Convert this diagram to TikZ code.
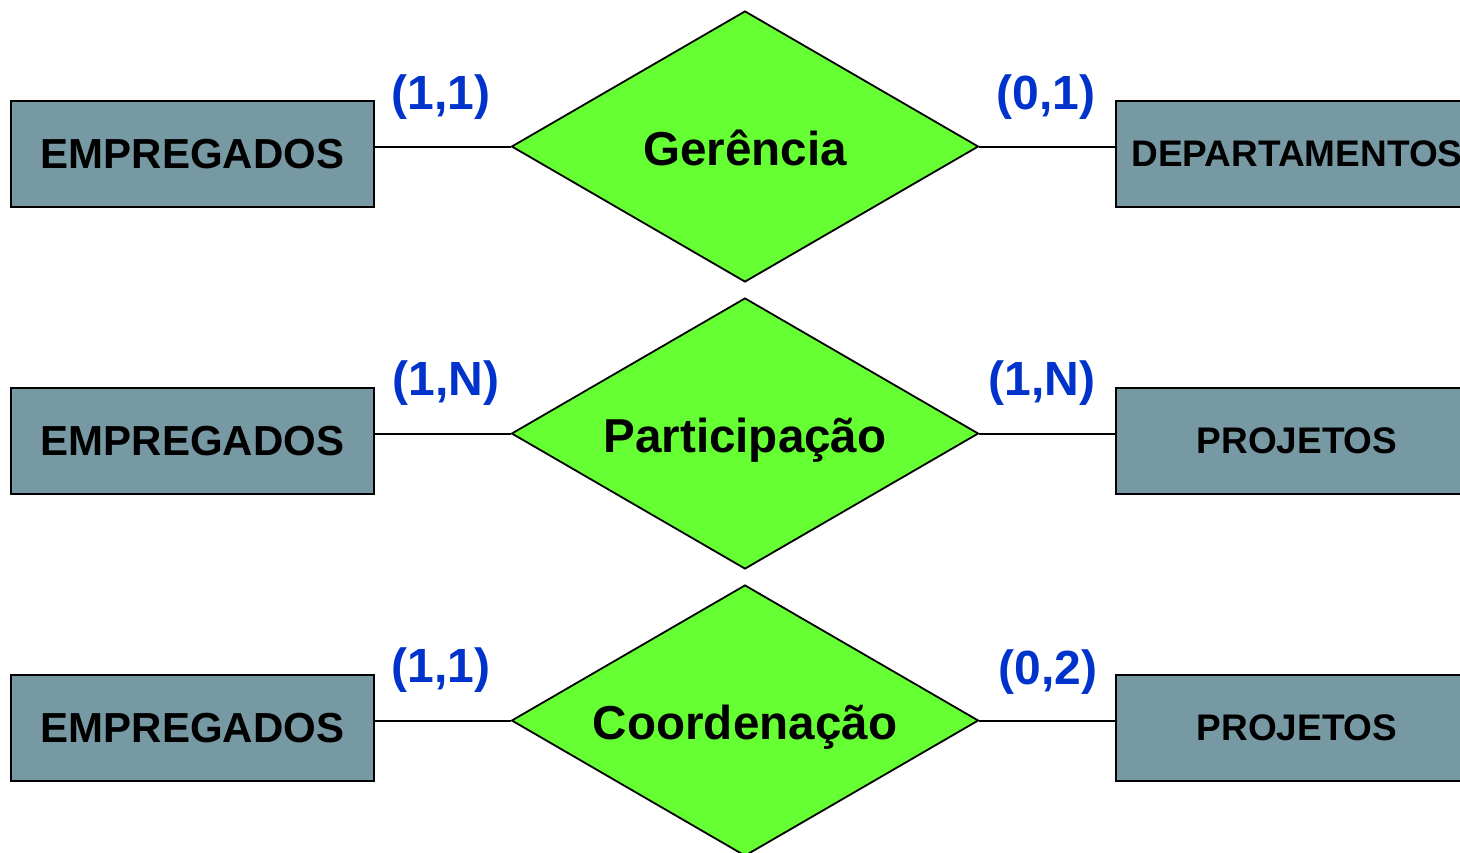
\documentclass[tikz,border=0pt]{standalone}
\usepackage{fontspec}
\setmainfont{Liberation Sans}
\usetikzlibrary{shapes.geometric}

\definecolor{entfill}{HTML}{7799A3}
\definecolor{relfill}{HTML}{66FF33}
\definecolor{cardblue}{HTML}{0033CC}

\begin{document}
\begin{tikzpicture}[x=0.5pt, y=-0.5pt,
    entity/.style={draw, fill=entfill, line width=1pt, minimum width=181.5pt,
      minimum height=53pt, inner sep=0pt, font=\bfseries\fontsize{21}{21}\selectfont},
    entsmall/.style={entity, font=\bfseries\fontsize{18.5}{18.5}\selectfont},
    rel/.style={diamond, draw, fill=relfill, line width=0.9pt, aspect=1.72,
      minimum width=233.5pt, minimum height=135.5pt, inner sep=0pt,
      text height=19.5pt, text depth=1pt,
      font=\bfseries\fontsize{23.8}{24}\selectfont},
    card/.style={text=cardblue, inner sep=0pt, font=\bfseries\fontsize{24}{24}\selectfont},
    link/.style={line width=1pt}]
    \clip(0, 0) rectangle (1460, 852);

    % Gerencia
    \node[entity] (emp1) at(192.5, 154){EMPREGADOS};
    \node[rel] (ger) at(745, 146.5){Gerência};
    \node[entsmall] (dep) at(1297, 154){DEPARTAMENTOS};
    \draw[link](emp1.east |- ger.west)--(ger.west);
    \draw[link](ger.east)--(ger.east -| dep.west);
    \node[card] (c11) at(441, 97){(1,1)};
    \node[card] (c12) at(1046, 97){(0,1)};

    % Participacao
    \node[entity] (emp2) at(192.5, 441){EMPREGADOS};
    \node[rel] (part) at(745, 433.5){Participação};
    \node[entsmall] (proj1) at(1297, 441){PROJETOS};
    \draw[link](emp2.east |- part.west)--(part.west);
    \draw[link](part.east)--(part.east -| proj1.west);
    \node[card] (c21) at(446, 383){(1,N)};
    \node[card] (c22) at(1042, 383){(1,N)};

    % Coordenacao
    \node[entity] (emp3) at(192.5, 728){EMPREGADOS};
    \node[rel] (coord) at(745, 720.5){Coordenação};
    \node[entsmall] (proj2) at(1297, 728){PROJETOS};
    \draw[link](emp3.east |- coord.west)--(coord.west);
    \draw[link](coord.east)--(coord.east -| proj2.west);
    \node[card] (c31) at(441, 670){(1,1)};
    \node[card] (c32) at(1048, 672){(0,2)};

  \end{tikzpicture}
\end{document}
